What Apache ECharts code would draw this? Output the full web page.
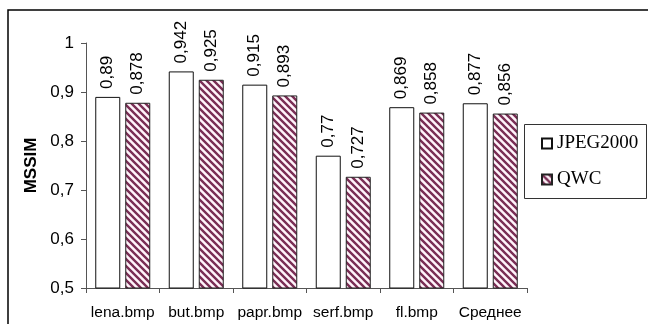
<!DOCTYPE html>
<html>
<head>
<meta charset="utf-8">
<script src="https://cdn.jsdelivr.net/npm/echarts@6/dist/echarts.min.js"></script>
<style>
  html, body { margin: 0; padding: 0; background: #fff; }
  #chart { width: 648px; height: 324px; }
</style>
</head>
<body>
<div id="chart"></div>
<script>
// Images and their MSSIM scores for the two codecs
const categories = ['lena.bmp', 'but.bmp', 'papr.bmp', 'serf.bmp', 'fl.bmp', 'Среднее'];
const jpeg2000 = [0.89, 0.942, 0.915, 0.77, 0.869, 0.877];
const qwc = [0.878, 0.925, 0.893, 0.727, 0.858, 0.856];
const yTicks = { min: 0.5, max: 1, step: 0.1 };

// Diagonal hatch tile for the QWC bars
function hatchTile() {
  const s = 7;
  const c = document.createElement('canvas');
  c.width = s; c.height = s;
  const g = c.getContext('2d');
  g.fillStyle = '#fff4fa';
  g.fillRect(0, 0, s, s);
  g.strokeStyle = '#7a2e55';
  g.lineWidth = 2.4;
  g.beginPath();
  g.moveTo(-1, -1); g.lineTo(s + 1, s + 1);
  g.moveTo(-1, s - 1); g.lineTo(1, s + 1);
  g.moveTo(s - 1, -1); g.lineTo(s + 1, 1);
  g.stroke();
  return c;
}

const comma = v => String(v).replace('.', ',');

const chart = echarts.init(document.getElementById('chart'), null, { renderer: 'canvas', devicePixelRatio: 1 });

const valueLabel = {
  show: true,
  position: 'top',
  rotate: 90,
  align: 'left',
  verticalAlign: 'middle',
  distance: 8,
  color: '#000',
  fontFamily: 'Liberation Sans, Arial, sans-serif',
  fontSize: 17,
  formatter: p => comma(p.value)
};

chart.setOption({
  animation: false,
  backgroundColor: '#fff',
  graphic: [
    { type: 'rect', shape: { x: 8, y: 10, width: 700, height: 400 },
      style: { fill: 'none', stroke: '#000', lineWidth: 1.5 }, z: 0 },
    { type: 'rect', shape: { x: 524.5, y: 124.5, width: 122, height: 74 },
      style: { fill: '#fff', stroke: '#333', lineWidth: 1 }, z: 1 }
  ],
  grid: { left: 86, top: 43, right: 121, bottom: 36, containLabel: false },
  legend: {
    orient: 'vertical',
    left: 536,
    top: 129,
    itemWidth: 10,
    itemHeight: 10,
    itemGap: 17,
    icon: 'rect',
    textStyle: { fontFamily: 'Liberation Serif, Times New Roman, serif', fontSize: 19, color: '#000' },
    data: ['JPEG2000', 'QWC']
  },
  xAxis: {
    type: 'category',
    data: categories,
    axisLine: { lineStyle: { color: '#555', width: 1 } },
    axisTick: { show: true, length: 5, inside: false, alignWithLabel: false, lineStyle: { color: '#555' } },
    axisLabel: { margin: 17, color: '#000', fontFamily: 'Liberation Sans, Arial, sans-serif', fontSize: 15.5, interval: 0 }
  },
  yAxis: {
    type: 'value',
    min: yTicks.min,
    max: yTicks.max,
    interval: yTicks.step,
    name: 'MSSIM',
    nameLocation: 'middle',
    nameGap: 43,
    nameRotate: 90,
    nameTextStyle: { fontFamily: 'Liberation Sans, Arial, sans-serif', fontWeight: 'bold', fontSize: 17, color: '#000' },
    axisLine: { show: true, lineStyle: { color: '#555', width: 1 } },
    axisTick: { show: true, length: 5, lineStyle: { color: '#555' } },
    splitLine: { show: false },
    axisLabel: {
      margin: 12, color: '#000', fontFamily: 'Liberation Sans, Arial, sans-serif', fontSize: 17,
      formatter: v => comma(Math.round(v * 10) / 10)
    }
  },
  series: [
    {
      name: 'JPEG2000',
      type: 'bar',
      data: jpeg2000,
      barWidth: 25,
      barGap: '20%',
      itemStyle: { color: '#fff', borderColor: '#111', borderWidth: 1 },
      label: valueLabel
    },
    {
      name: 'QWC',
      type: 'bar',
      data: qwc,
      barWidth: 25,
      itemStyle: { color: { image: hatchTile(), repeat: 'repeat' }, borderColor: '#222', borderWidth: 1 },
      label: valueLabel
    }
  ]
});
</script>
</body>
</html>
